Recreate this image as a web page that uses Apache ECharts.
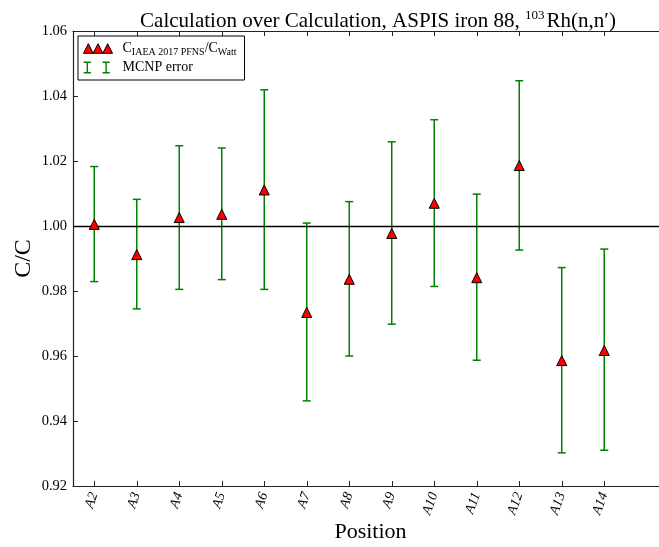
<!DOCTYPE html>
<html>
<head>
<meta charset="utf-8">
<script src="https://cdn.jsdelivr.net/npm/echarts@6/dist/echarts.min.js"></script>
<style>
html,body{margin:0;padding:0;background:#fff;}
#chart{width:659px;height:547px;}
</style>
</head>
<body>
<div id="chart"></div>
<script>
var positions = ['A2','A3','A4','A5','A6','A7','A8','A9','A10','A11','A12','A13','A14'];
var ratio   = [1.0005, 0.9912, 1.0026, 1.0036, 1.0111, 0.9734, 0.9836, 0.9977, 1.0070, 0.9841, 1.0186, 0.9586, 0.9617];
var errLow  = [0.9829, 0.9745, 0.9805, 0.9835, 0.9805, 0.9462, 0.9600, 0.9698, 0.9814, 0.9587, 0.9926, 0.9302, 0.9310];
var errHigh = [1.0183, 1.0082, 1.0247, 1.0240, 1.0419, 1.0009, 1.0075, 1.0259, 1.0327, 1.0098, 1.0447, 0.9872, 0.9929];
var yTicks  = [0.92, 0.94, 0.96, 0.98, 1.00, 1.02, 1.04, 1.06];
var refLine = 1.0;

var FONT = '"Liberation Serif", "DejaVu Serif", serif';
var ratioName = 'C_IAEA 2017 PFNS/C_Watt';
var errName = 'MCNP error';

var cats = positions.concat(['']);
var nPos = positions.length;

var chart = echarts.init(document.getElementById('chart'), null, {renderer: 'canvas'});

var errData = positions.map(function (p, i) { return [i, errLow[i], errHigh[i]]; });
var ratioData = positions.map(function (p, i) { return [i, ratio[i]]; });

var triPath = 'path://M0,10.8 L4.83,1.2 L9.67,10.8 Z M9.67,10.8 L14.5,1.2 L19.33,10.8 Z M19.33,10.8 L24.17,1.2 L29,10.8 Z M34,0 L34,0 M34,12 L34,12';
var iPath = 'path://M0.2,0 H7.4 V1.4 H4.5 V10.6 H7.4 V12 H0.2 V10.6 H3.1 V1.4 H0.2 Z M19,0 H26.2 V1.4 H23.3 V10.6 H26.2 V12 H19 V10.6 H21.9 V1.4 H19 Z M0,0 L0,0 M34,12 L34,12';

var option = {
  animation: false,
  backgroundColor: '#fff',
  title: {
    text: '{a|Calculation over Calculation, ASPIS iron 88, }{s|103}{a|Rh(n,n\u2032)}',
    left: 373,
    textAlign: 'center',
    top: 4,
    textStyle: {
      fontWeight: 'normal',
      rich: {
        a: {fontFamily: FONT, fontSize: 21, fontWeight: 'normal', color: '#000', lineHeight: 23, verticalAlign: 'bottom'},
        s: {fontFamily: FONT, fontSize: 13, fontWeight: 'normal', color: '#000', lineHeight: 23, verticalAlign: 'top', padding: [0, 2, 0, 0]}
      }
    }
  },
  legend: {
    orient: 'vertical',
    left: 78,
    top: 36,
    padding: [5, 8, 4, 5],
    itemGap: 3,
    itemWidth: 34,
    itemHeight: 12,
    borderColor: '#000',
    borderWidth: 1,
    backgroundColor: '#fff',
    z: 10,
    data: [
      {name: ratioName, icon: triPath, itemStyle: {color: '#ff0000', borderColor: '#000', borderWidth: 1}},
      {name: errName, icon: iPath, itemStyle: {color: '#008000', borderWidth: 0}}
    ],
    formatter: function (name) {
      if (name === ratioName) {
        return '{c|C}{sub|IAEA 2017 PFNS}{c|/C}{sub|Watt}';
      }
      return '{c|' + name + '}';
    },
    textStyle: {
      rich: {
        c: {fontFamily: FONT, fontSize: 14, color: '#000', lineHeight: 17, verticalAlign: 'bottom', padding: [0, 0, 2, 0]},
        sub: {fontFamily: FONT, fontSize: 10, color: '#000', lineHeight: 17, verticalAlign: 'bottom', padding: [0, 0, 0, 0]}
      }
    }
  },
  grid: {left: 73, top: 31, width: 595, height: 455, containLabel: false, outerBoundsMode: 'none'},
  xAxis: [
    {
      type: 'category',
      data: cats,
      boundaryGap: true,
      position: 'bottom',
      name: 'Position',
      nameLocation: 'middle',
      nameGap: 35,
      nameMoveOverlap: false,
      nameTextStyle: {fontFamily: FONT, fontSize: 22, color: '#000'},
      axisLine: {show: true, onZero: false, lineStyle: {color: '#222', width: 1.2}},
      axisTick: {show: true, inside: true, length: 5, alignWithLabel: true,
        interval: function (i) { return i < nPos; },
        lineStyle: {color: '#222', width: 1}},
      axisLabel: {show: true, interval: 0, rotate: 70, margin: 7,
        fontFamily: FONT, fontStyle: 'italic', fontSize: 14, color: '#000'},
      splitLine: {show: false}
    },
    {
      type: 'category',
      data: cats,
      boundaryGap: true,
      position: 'top',
      axisLine: {show: true, onZero: false, lineStyle: {color: '#222', width: 1.2}},
      axisTick: {show: true, inside: true, length: 5, alignWithLabel: true,
        interval: function (i) { return i < nPos; },
        lineStyle: {color: '#222', width: 1}},
      axisLabel: {show: false},
      splitLine: {show: false}
    }
  ],
  yAxis: {
    type: 'value',
    min: yTicks[0],
    max: yTicks[yTicks.length - 1],
    interval: 0.02,
    name: 'C/C',
    nameLocation: 'middle',
    nameGap: 37,
    nameMoveOverlap: false,
    nameRotate: 90,
    nameTextStyle: {fontFamily: FONT, fontSize: 24, color: '#000'},
    axisLine: {show: true, lineStyle: {color: '#222', width: 1.2}},
    axisTick: {show: true, inside: true, length: 5, lineStyle: {color: '#222', width: 1}},
    axisLabel: {fontFamily: FONT, fontSize: 14.5, color: '#000', margin: 6,
      formatter: function (v) { return v.toFixed(2); }},
    splitLine: {show: false}
  },
  series: [
    {
      name: errName,
      type: 'custom',
      xAxisIndex: 0,
      itemStyle: {color: '#008000'},
      z: 3,
      renderItem: function (params, api) {
        var x = api.value(0);
        var lo = api.coord([x, api.value(1)]);
        var hi = api.coord([x, api.value(2)]);
        var cw = 4;
        var st = {stroke: '#008000', lineWidth: 1.5, fill: null};
        return {
          type: 'group',
          children: [
            {type: 'line', shape: {x1: hi[0], y1: hi[1], x2: lo[0], y2: lo[1]}, style: st},
            {type: 'line', shape: {x1: hi[0] - cw, y1: hi[1], x2: hi[0] + cw, y2: hi[1]}, style: st},
            {type: 'line', shape: {x1: lo[0] - cw, y1: lo[1], x2: lo[0] + cw, y2: lo[1]}, style: st}
          ]
        };
      },
      encode: {x: 0, y: [1, 2]},
      data: errData,
      markLine: {
        silent: true,
        symbol: ['none', 'none'],
        label: {show: false},
        lineStyle: {color: '#000', width: 1.3, type: 'solid'},
        data: [{yAxis: refLine}]
      }
    },
    {
      name: ratioName,
      type: 'scatter',
      xAxisIndex: 0,
      symbol: 'triangle',
      symbolSize: [10, 10],
      itemStyle: {color: '#ff0000', borderColor: '#000', borderWidth: 1, opacity: 1},
      z: 5,
      data: ratioData
    }
  ]
};
chart.setOption(option);
</script>
</body>
</html>
